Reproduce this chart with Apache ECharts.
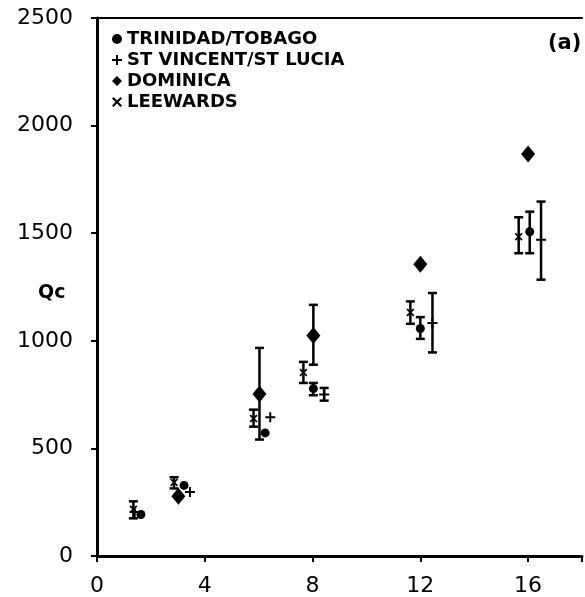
<!DOCTYPE html>
<html>
<head>
<meta charset="utf-8">
<script src="https://cdn.jsdelivr.net/npm/echarts@6/dist/echarts.min.js"></script>
<style>
  html, body { margin: 0; padding: 0; background: #fff; }
  #chart { width: 585px; height: 597px; }
</style>
</head>
<body>
<div id="chart"></div>
<script>
// values: [x, Qc] and error bars [x, low, high]
var trinidad = [[1.63, 193], [3.23, 328], [6.24, 572], [8.03, 778], [12.0, 1057], [16.06, 1507]];
var trinidadErr = [[8.03, 747, 804], [12.0, 1009, 1110], [16.06, 1407, 1600]];

var stVincent = [[1.4, 205], [3.45, 297], [6.43, 645], [8.43, 750], [12.45, 1083], [16.48, 1469]];
var stVincentErr = [[8.43, 722, 781], [12.45, 946, 1222], [16.48, 1284, 1647]];

var dominica = [[3.02, 278], [6.03, 753], [8.03, 1025], [12.0, 1356], [16.0, 1868]];
var dominicaErr = [[6.03, 541, 967], [8.03, 889, 1167]];

var leewards = [[1.35, 217], [2.86, 342], [5.81, 639], [7.66, 853], [11.63, 1132], [15.65, 1484]];
var leewardsErr = [[1.35, 175, 254], [2.86, 314, 366], [5.81, 601, 680], [7.66, 804, 902], [11.63, 1079, 1183], [15.65, 1407, 1574]];

var xTicks = [0, 4, 8, 12, 16];
var yTicks = [0, 500, 1000, 1500, 2000, 2500];

var plusPath = 'path://M4,0H6V4H10V6H6V10H4V6H0V4H4Z';
var crossPath = 'path://M1.5,0L5,3.5L8.5,0L10,1.5L6.5,5L10,8.5L8.5,10L5,6.5L1.5,10L0,8.5L3.5,5L0,1.5Z';

function errorBar(params, api) {
  var x = api.value(0);
  var top = api.coord([x, api.value(2)]);
  var bot = api.coord([x, api.value(1)]);
  var w = 4.5;
  var st = { stroke: '#000', lineWidth: 2.5 };
  return {
    type: 'group',
    children: [
      { type: 'line', shape: { x1: top[0], y1: top[1], x2: bot[0], y2: bot[1] }, style: st },
      { type: 'line', shape: { x1: top[0] - w, y1: top[1], x2: top[0] + w, y2: top[1] }, style: st },
      { type: 'line', shape: { x1: bot[0] - w, y1: bot[1], x2: bot[0] + w, y2: bot[1] }, style: st }
    ]
  };
}

function errSeries(data) {
  return {
    type: 'custom',
    name: 'err',
    renderItem: errorBar,
    data: data,
    z: 1,
    silent: true
  };
}

var chart = echarts.init(document.getElementById('chart'));
var black = '#000';
var labelFont = 'DejaVu Sans';

chart.setOption({
  animation: false,
  backgroundColor: '#fff',
  grid: { left: 97, top: 18, width: 490, height: 539 },
  legend: {
    orient: 'vertical',
    left: 107,
    top: 25,
    itemWidth: 10,
    itemHeight: 10,
    itemGap: 3,
    textStyle: { fontFamily: labelFont, fontWeight: 'bold', fontSize: 18, color: black },
    data: [
      { name: 'TRINIDAD/TOBAGO', icon: 'circle' },
      { name: 'ST VINCENT/ST LUCIA', icon: plusPath },
      { name: 'DOMINICA', icon: 'diamond' },
      { name: 'LEEWARDS', icon: crossPath }
    ]
  },
  xAxis: [{
    type: 'value',
    min: 0,
    max: 18,
    interval: 4,
    splitLine: { show: false },
    axisLine: { lineStyle: { color: black, width: 3 } },
    axisTick: { show: true, length: 6, lineStyle: { color: black, width: 2 } },
    axisLabel: {
      color: black, fontFamily: labelFont, fontSize: 22, margin: 19,
      formatter: function (v) { return xTicks.indexOf(v) >= 0 ? String(v) : ''; }
    }
  }, {
    type: 'value',
    position: 'top',
    min: 0,
    max: 18,
    axisLine: { show: true, lineStyle: { color: black, width: 2 } },
    axisTick: { show: false },
    axisLabel: { show: false },
    splitLine: { show: false }
  }],
  yAxis: {
    type: 'value',
    min: 0,
    max: 2500,
    interval: 500,
    splitLine: { show: false },
    axisLine: { show: true, lineStyle: { color: black, width: 3 } },
    axisTick: { show: true, length: 6, lineStyle: { color: black, width: 2 } },
    axisLabel: {
      color: black, fontFamily: labelFont, fontSize: 22, margin: 24,
      formatter: function (v) { return yTicks.indexOf(v) >= 0 ? String(v) : ''; }
    }
  },
  graphic: [
    { type: 'text', left: 38, top: 284, style: { text: 'Qc', font: 'bold 19px "DejaVu Sans"', fill: black } },
    { type: 'text', left: 548, top: 33, style: { text: '(a)', font: 'bold 21px "DejaVu Sans"', fill: black } }
  ],
  series: [
    errSeries(trinidadErr),
    errSeries(stVincentErr),
    errSeries(dominicaErr),
    errSeries(leewardsErr),
    { name: 'TRINIDAD/TOBAGO', type: 'scatter', symbol: 'circle', symbolSize: 9,
      itemStyle: { color: black, opacity: 1 }, data: trinidad, z: 3 },
    { name: 'ST VINCENT/ST LUCIA', type: 'scatter', symbol: plusPath, symbolSize: 10,
      itemStyle: { color: black, opacity: 1 }, data: stVincent, z: 3 },
    { name: 'DOMINICA', type: 'scatter', symbol: 'diamond', symbolSize: [14, 17],
      itemStyle: { color: black, opacity: 1 }, data: dominica, z: 3 },
    { name: 'LEEWARDS', type: 'scatter', symbol: crossPath, symbolSize: 8,
      itemStyle: { color: black, opacity: 1 }, data: leewards, z: 3 }
  ]
});
</script>
</body>
</html>
